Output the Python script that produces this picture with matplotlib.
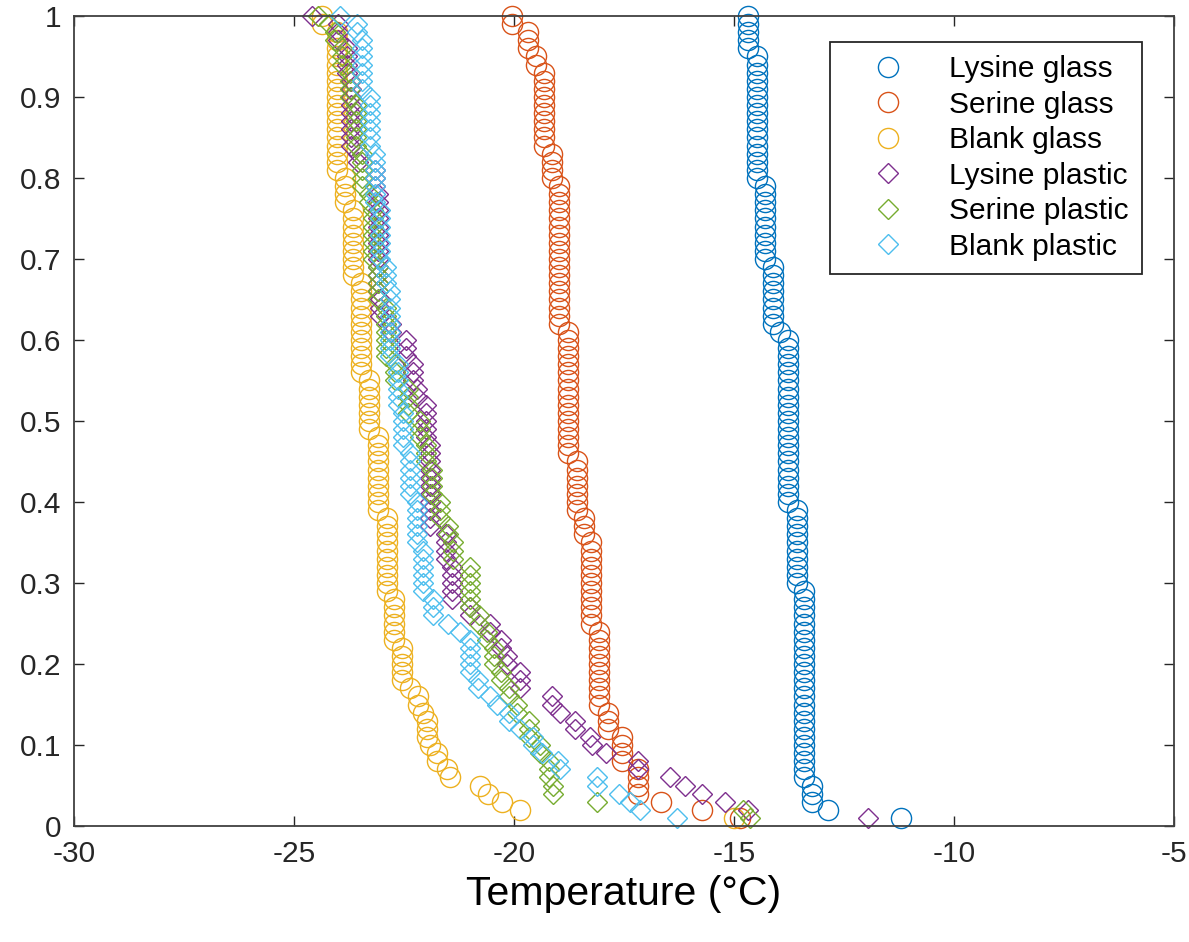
import numpy as np
import matplotlib
matplotlib.use("Agg")
import matplotlib.pyplot as plt

plt.rcParams['font.family'] = ['Liberation Sans', 'DejaVu Sans']
plt.rcParams['axes.unicode_minus'] = False

# freezing temperatures (degC), sorted cold -> warm, stored as runs of (temperature, number of droplets)
lys_glass_t = [-14.68, -14.48, -14.30, -14.11, -13.95, -13.77, -13.57, -13.41, -13.23, -12.86, -11.2]
lys_glass_n = [5, 16, 10, 8, 1, 21, 10, 24, 3, 1, 1]

ser_glass_t = [-20.05, -19.68, -19.50, -19.32, -19.14, -18.97, -18.77, -18.57, -18.41, -18.25,
               -18.07, -17.85, -17.55, -17.18, -16.65, -15.73, -14.85]
ser_glass_n = [2, 3, 2, 10, 4, 18, 16, 7, 3, 11, 10, 3, 4, 4, 1, 1, 1]

blk_glass_t = [-24.36, -24.02, -23.84, -23.66, -23.48, -23.30, -23.09, -22.89, -22.73, -22.55,
               -22.36, -22.18, -22.07, -21.98, -21.90, -21.75, -21.52, -21.45, -20.77, -20.59,
               -20.27, -19.86, -15.0]
blk_glass_n = [2, 18, 4, 9, 12, 7, 10, 10, 6, 5, 1, 2, 1, 3, 1, 2, 1, 1, 1, 1, 1, 1, 1]

lys_plas_t = [-24.6, -24.0, -23.8, -23.7, -23.55, -23.15, -23.1, -23.05, -22.8, -22.45,
              -22.3, -22.2, -22.0, -21.9, -21.55, -21.4, -21.0, -20.55, -20.3, -20.16,
              -19.86, -19.14, -18.95, -18.6, -18.27, -18.23, -17.9, -17.18, -16.45, -16.11,
              -15.73, -15.2, -14.68, -11.95]
lys_plas_n = [1, 3, 4, 9, 2, 3, 13, 3, 2, 3, 3, 2, 5, 11, 4, 5, 2, 2, 2, 2,
              3, 2, 1, 2, 1, 1, 1, 2, 1, 1, 1, 1, 1, 1]

ser_plas_t = [-24.45, -24.2, -24.07, -23.9, -23.73, -23.6, -23.45, -23.3, -23.2, -23.1,
              -22.9, -22.7, -22.4, -22.14, -22.0, -21.86, -21.68, -21.5, -21.39, -21.0,
              -20.8, -20.6, -20.45, -20.3, -20.1, -19.93, -19.65, -19.4, -19.2, -19.1,
              -18.1, -14.8, -14.64]
ser_plas_n = [1, 1, 2, 3, 4, 6, 5, 2, 7, 5, 7, 3, 4, 3, 3, 4, 3, 2, 3, 6,
              2, 2, 3, 2, 2, 2, 3, 2, 3, 2, 1, 1, 1]

blk_plas_t = [-23.95, -23.57, -23.45, -23.27, -23.16, -23.05, -22.9, -22.82, -22.64, -22.52,
              -22.36, -22.2, -22.07, -21.84, -21.5, -21.23, -21.0, -20.82, -20.55, -20.39,
              -20.1, -19.86, -19.57, -19.36, -19.0, -18.95, -18.1, -17.6, -17.36, -17.14,
              -16.3]
blk_plas_n = [1, 2, 7, 7, 7, 7, 3, 9, 6, 5, 6, 6, 6, 3, 1, 1, 5, 2, 1, 1,
              2, 1, 2, 1, 1, 1, 2, 1, 1, 1, 1]

labels = ['Lysine glass', 'Serine glass', 'Blank glass',
          'Lysine plastic', 'Serine plastic', 'Blank plastic']
colors = ['#0072BD', '#D95319', '#EDB120', '#7E2F8E', '#77AC30', '#4DBEEE']

series = [(lys_glass_t, lys_glass_n), (ser_glass_t, ser_glass_n), (blk_glass_t, blk_glass_n),
          (lys_plas_t, lys_plas_n), (ser_plas_t, ser_plas_n), (blk_plas_t, blk_plas_n)]

fig = plt.figure(figsize=(11.89, 9.42), dpi=100)
ax = fig.add_axes([0.0622, 0.1231, 0.925, 0.860])

for i, (t, n) in enumerate(series):
    temps = np.repeat(t, n)
    N = len(temps)
    frac = (N - np.arange(N)) / N  # fraction still liquid
    if i < 3:
        ax.plot(temps, frac, 'o', ms=14.5, mfc='none', mec=colors[i], mew=1.0,
                label=labels[i], clip_on=False)
    else:
        ax.plot(temps, frac, 'D', ms=10.3, mfc='none', mec=colors[i], mew=1.0,
                label=labels[i], clip_on=False)

ax.set_xlim(-30, -5)
ax.set_ylim(0, 1)
ax.set_xticks([-30, -25, -20, -15, -10, -5])
ax.set_xticklabels(['-30', '-25', '-20', '-15', '-10', '-5'])
ax.set_yticks(np.arange(0, 1.01, 0.1))
ax.set_yticklabels(['0', '0.1', '0.2', '0.3', '0.4', '0.5', '0.6', '0.7', '0.8', '0.9', '1'])
ax.tick_params(direction='in', top=True, right=True, length=7, width=1.0,
               labelsize=21.5, colors='#262626')
ax.tick_params(axis='x', pad=10)
ax.tick_params(axis='y', pad=9)
for s in ax.spines.values():
    s.set_color('#404040')
    s.set_linewidth(1.3)
ax.set_xlabel('Temperature (°C)', fontsize=29.5, labelpad=5)

leg = ax.legend(loc='upper right', bbox_to_anchor=(0.971, 0.968), borderaxespad=0,
                fontsize=21.5, numpoints=1, handlelength=3.0, handletextpad=0.55,
                labelspacing=0.25, borderpad=0.45, fancybox=False, framealpha=1,
                edgecolor='#262626')
leg.get_frame().set_linewidth(1.3)

fig.savefig('out.png', dpi=100)
